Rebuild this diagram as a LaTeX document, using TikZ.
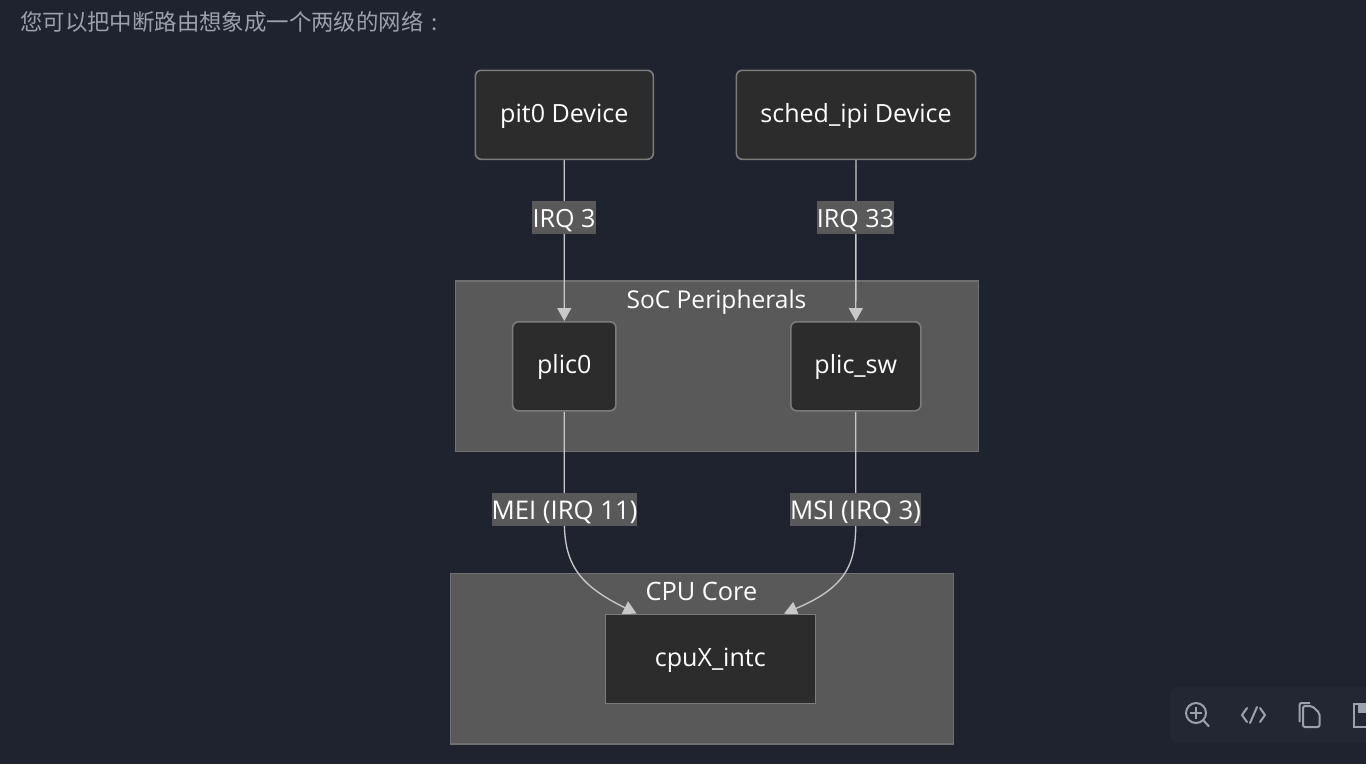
\documentclass[tikz,border=0pt]{standalone}
\usepackage{fontspec}
\setmainfont{Open Sans}
\newfontfamily\cjk{Noto Sans CJK SC}
\usetikzlibrary{arrows.meta,positioning,calc}
\pgfdeclarelayer{pagelayer}
\pgfdeclarelayer{clusterlayer}
\pgfdeclarelayer{edgelayer}
\pgfsetlayers{pagelayer,clusterlayer,edgelayer,main}
\definecolor{pagebg}{HTML}{1F2330}
\definecolor{toolbg}{HTML}{232733}
\definecolor{boxfill}{HTML}{2C2C2C}
\definecolor{boxline}{HTML}{7C7C7C}
\definecolor{clusterfill}{HTML}{595959}
\definecolor{clusterline}{HTML}{707070}
\definecolor{edgecol}{HTML}{C8C8C8}
\definecolor{titlecol}{HTML}{9AA0AC}
\definecolor{iconcol}{HTML}{9BA1AD}
\tikzset{
  x=0.75pt,y=-0.75pt,
  lbl/.style={text=white,font=\fontsize{18.4}{20}\selectfont,inner sep=0pt,text height=14pt,text depth=0pt},
  devbox/.style={draw=boxline,fill=boxfill,line width=1.2pt,rounded corners=4.5pt,text=white,
    font=\fontsize{18.8}{20}\selectfont,inner sep=0pt,anchor=north west,text height=14pt,text depth=2.75pt},
  sqbox/.style={devbox,rounded corners=0pt},
  cluster/.style={draw=clusterline,fill=clusterfill,line width=1.2pt,inner sep=0pt,anchor=north west},
  edgelabel/.style={fill=clusterfill,text=white,font=\fontsize{18.8}{20}\selectfont,inner sep=0pt,
    minimum height=24.5pt,anchor=center,text height=15.5pt,text depth=0pt},
  widelabel/.style={edgelabel,font=\fontsize{19.3}{20}\selectfont},
  flow/.style={draw=edgecol,line width=1pt,-{Triangle[length=9.75pt,width=10.5pt,fill=edgecol]}},
  icon/.style={draw=iconcol,line width=1.5pt}
}
\begin{document}
\begin{tikzpicture}
\useasboundingbox (0,0) rectangle (1366,764);
\begin{pgfonlayer}{pagelayer}
\fill[pagebg] (0,0) rectangle (1366,764);
\end{pgfonlayer}
\node[anchor=west,text=titlecol,inner sep=0pt,font=\cjk\fontsize{16.8}{18}\selectfont] (title) at (20,21.5) {您可以把中断路由想象成一个两级的网络\kern6.3pt:};
% clusters
\begin{pgfonlayer}{clusterlayer}
\node[cluster,minimum width=392.25pt,minimum height=128pt] (soc) at (454.5,280) {};
\node[cluster,minimum width=377.25pt,minimum height=127.75pt] (cpu) at (449.5,572.7) {};
\end{pgfonlayer}
\node[lbl] (soclabel) at (716.5,299.5) {SoC Peripherals};
\node[lbl,font=\fontsize{19}{20}\selectfont] (cpulabel) at (701.5,591) {CPU Core};
% nodes
\node[devbox,minimum width=133.5pt,minimum height=66.75pt] (pit) at (474.5,69.5) {pit0 Device};
\node[devbox,minimum width=179.5pt,minimum height=66.75pt] (sched) at (735.5,69.5) {sched\_ipi Device};
\node[devbox,minimum width=77.5pt,minimum height=66.75pt] (plic) at (511.8,321) {plic0};
\node[devbox,minimum width=97.5pt,minimum height=66.75pt] (plicsw) at (790,321) {plic\_sw};
\node[sqbox,minimum width=157.5pt,minimum height=66.75pt] (intc) at (604.5,613.5) {cpuX\_intc};
% edges
\begin{pgfonlayer}{edgelayer}
\draw[flow] (pit.south) -- (plic.north);
\draw[flow] (sched.south) -- (plicsw.north);
\draw[flow] (plic.south) -- ($(plic.south)+(0,109)$) .. controls ($(plic.south)+(0,154)$) and ($(plic.south)+(16,174)$) .. ($(intc.north west)+(32,0)$);
\draw[flow] (plicsw.south) -- ($(plicsw.south)+(0,109)$) .. controls ($(plicsw.south)+(0,149)$) and ($(plicsw.south)+(-5.5,174)$) .. ($(intc.north east)+(-32,0)$);
\end{pgfonlayer}
% edge labels
\node[edgelabel,minimum width=48pt] (l1) at (564,217.5) {IRQ 3};
\node[edgelabel,minimum width=58pt] (l2) at (855.5,217.5) {IRQ 33};
\node[widelabel,minimum width=109pt] (l3) at (564.5,509.5) {MEI (IRQ 11)};
\node[widelabel,minimum width=98pt] (l4) at (855.5,509.5) {MSI (IRQ 3)};
% toolbar
\fill[toolbg,rounded corners=6pt] (1170,687) rectangle (1380,743);
\draw[icon] (1196,713) circle[radius=10];
\draw[icon] (1203.5,720.5) -- (1209,726.5);
\draw[icon,line width=1.2pt] (1190,713) -- (1202,713) (1196,707) -- (1196,719);
\draw[icon,line join=round,line cap=round] (1247,708) -- (1242,715) -- (1247,722);
\draw[icon,line join=round,line cap=round] (1260,708) -- (1265,715) -- (1260,722);
\draw[icon,line cap=round] (1257,707) -- (1250,723);
\draw[icon,rounded corners=1.5pt] (1303,727) -- (1303,706) -- (1312,706) -- (1319.5,713) -- (1319.5,727) -- cycle;
\draw[icon,rounded corners=1.5pt] (1299.5,722) -- (1299.5,703) -- (1310,703);
\draw[icon] (1366.5,727) -- (1354,727) -- (1354,704) -- (1366.5,704);
\fill[iconcol] (1358,704) rectangle (1366,713);
\end{tikzpicture}
\end{document}
